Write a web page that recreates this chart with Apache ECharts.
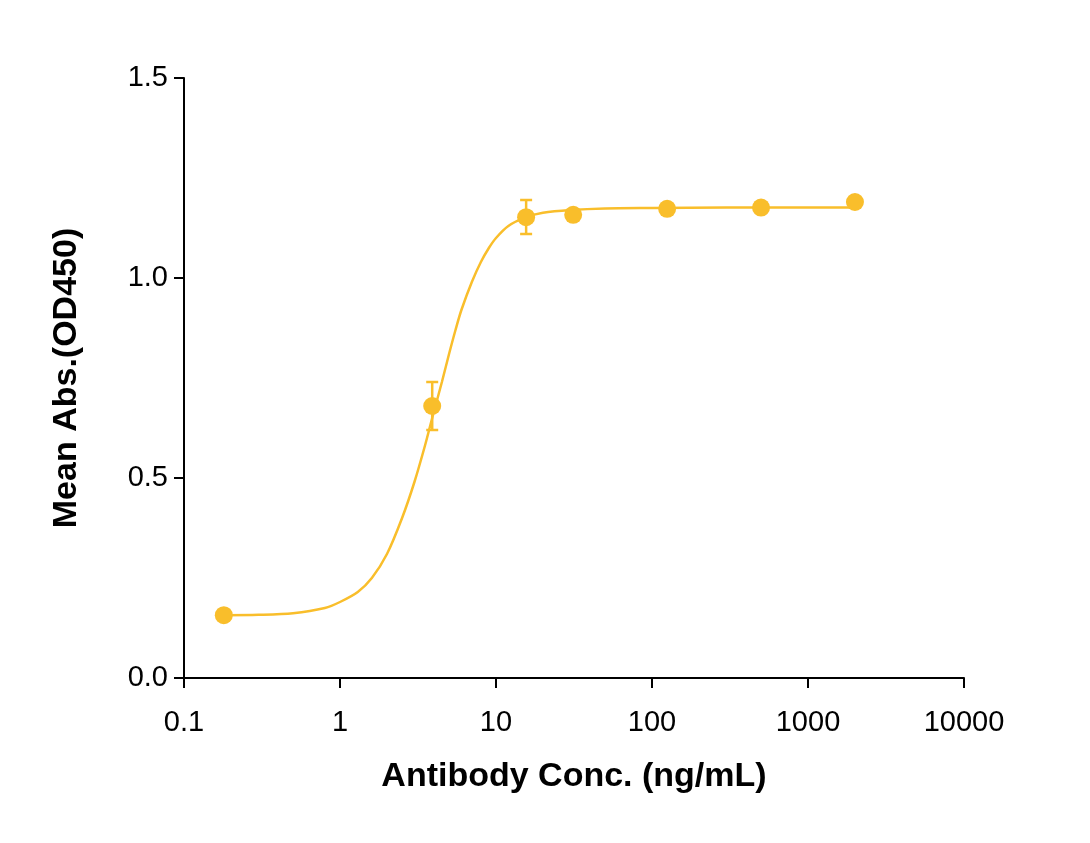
<!DOCTYPE html>
<html>
<head>
<meta charset="utf-8">
<script src="https://cdn.jsdelivr.net/npm/echarts@6/dist/echarts.min.js"></script>
<style>html,body{margin:0;background:#fff}#area{width:1090px;height:843px}</style>
</head>
<body>
<div id="area"></div>
<script>
// measured points
const conc = [0.18, 3.9, 15.6, 31.25, 125, 500, 2000];
const absMean = [0.157, 0.68, 1.152, 1.158, 1.173, 1.176, 1.19];
const errLow = [null, 0.62, 1.11, null, null, null, null];
const errHigh = [null, 0.74, 1.195, null, null, null, null];
// fitted curve
const curveX = [0.18, 0.3, 0.5, 0.8, 1, 1.3, 1.6, 2, 2.5, 3, 3.5, 3.9, 4.5, 5, 5.5, 6, 7, 8, 9, 10, 12, 15.6, 20, 30, 50, 100, 300, 1000, 2000];
const curveY = [0.157, 0.158, 0.162, 0.175, 0.19, 0.215, 0.25, 0.31, 0.40, 0.49, 0.58, 0.65, 0.74, 0.81, 0.87, 0.92, 0.99, 1.04, 1.075, 1.10, 1.13, 1.152, 1.163, 1.17, 1.174, 1.175, 1.176, 1.176, 1.176];
const xTicks = ['0.1', '1', '10', '100', '1000', '10000'];

const color = '#F9BE2B';
const myChart = echarts.init(document.getElementById('area'));
const axisFont = {fontFamily: 'Liberation Sans', fontSize: 29, color: '#000'};
const nameFont = {fontFamily: 'Liberation Sans', fontSize: 34, fontWeight: 'bold', color: '#000'};
myChart.setOption({
  animation: false,
  grid: {left: 184, right: 126, top: 78, bottom: 165},
  xAxis: {
    type: 'log', logBase: 10, min: 0.1, max: 10000,
    name: 'Antibody Conc. (ng/mL)', nameLocation: 'middle', nameGap: 82,
    nameTextStyle: nameFont,
    axisLine: {lineStyle: {color: '#000', width: 2}},
    axisTick: {length: 10, lineStyle: {color: '#000', width: 2}},
    minorTick: {show: false},
    splitLine: {show: false},
    axisLabel: Object.assign({margin: 30, formatter: v => {
      const s = xTicks.find(t => Math.abs(Number(t) - v) / v < 1e-6);
      return s || '';
    }}, axisFont)
  },
  yAxis: {
    type: 'value', min: 0, max: 1.5, interval: 0.5,
    name: 'Mean Abs.(OD450)', nameLocation: 'middle', nameGap: 100,
    nameTextStyle: nameFont,
    axisLine: {show: true, lineStyle: {color: '#000', width: 2}},
    axisTick: {show: true, length: 10, lineStyle: {color: '#000', width: 2}},
    splitLine: {show: false},
    axisLabel: Object.assign({margin: 16, formatter: v => v.toFixed(1)}, axisFont)
  },
  series: [
    {
      type: 'line', smooth: 0.3, symbol: 'none',
      data: curveX.map((x, i) => [x, curveY[i]]),
      lineStyle: {color: color, width: 2.5}
    },
    {
      type: 'custom',
      data: conc.map((x, i) => [x, errLow[i], errHigh[i]]).filter(d => d[1] != null),
      renderItem: (params, api) => {
        const lo = api.coord([api.value(0), api.value(1)]);
        const hi = api.coord([api.value(0), api.value(2)]);
        const w = 6;
        const st = {stroke: color, lineWidth: 2.5};
        return {type: 'group', children: [
          {type: 'line', shape: {x1: lo[0], y1: lo[1], x2: hi[0], y2: hi[1]}, style: st},
          {type: 'line', shape: {x1: lo[0] - w, y1: lo[1], x2: lo[0] + w, y2: lo[1]}, style: st},
          {type: 'line', shape: {x1: hi[0] - w, y1: hi[1], x2: hi[0] + w, y2: hi[1]}, style: st}
        ]};
      },
      z: 3
    },
    {
      type: 'scatter', symbolSize: 18,
      data: conc.map((x, i) => [x, absMean[i]]),
      itemStyle: {color: color, opacity: 1},
      z: 4
    }
  ]
});
</script>
</body>
</html>
